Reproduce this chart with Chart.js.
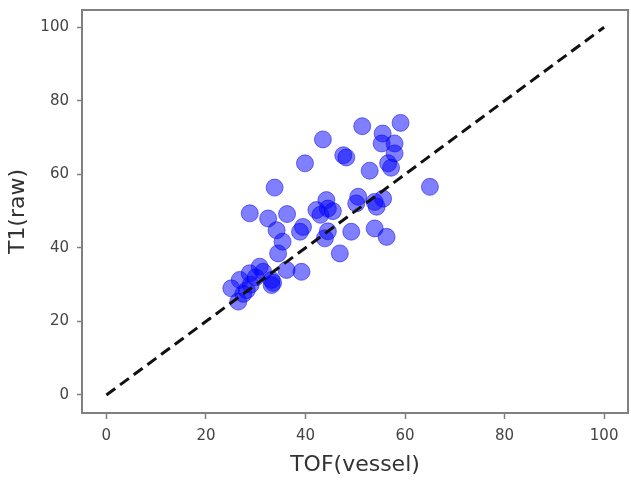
<!DOCTYPE html>
<html>
<head>
<meta charset="utf-8">
<script src="https://cdn.jsdelivr.net/npm/chart.js@4.4.1/dist/chart.umd.min.js"></script>
<style>
  html, body { margin: 0; padding: 0; background: #fff; overflow: hidden; }
  canvas { display: block; }
</style>
</head>
<body>
<canvas id="scatter" width="631" height="481"></canvas>
<script>
// values
var tofVessel = [51.4, 59.1, 43.5, 55.5, 55.3, 57.9, 47.6, 48.2, 39.9, 57.9,
                 56.6, 57.2, 52.9, 33.8, 65.0, 28.8, 36.3, 32.5, 34.2, 35.4,
                 34.5, 39.5, 38.9, 42.2, 43.0, 44.2, 44.5, 45.5, 43.9, 44.5,
                 46.9, 49.2, 50.6, 50.2, 53.9, 55.6, 54.3, 53.9, 56.3, 39.2,
                 36.2, 30.8, 31.5, 28.8, 26.8, 33.2, 33.2, 33.5, 25.1, 28.2,
                 29.0, 26.5, 27.5, 30.0];
var t1Raw     = [73.1, 74.0, 69.5, 71.1, 68.4, 68.4, 65.2, 64.6, 63.0, 65.7,
                 63.0, 61.8, 61.0, 56.4, 56.6, 49.4, 49.2, 48.0, 44.8, 41.7,
                 38.5, 45.7, 44.4, 50.3, 49.0, 53.0, 50.7, 50.0, 42.6, 44.5,
                 38.5, 44.4, 53.9, 52.1, 52.5, 53.4, 51.2, 45.3, 43.0, 33.5,
                 34.0, 34.9, 33.5, 33.1, 31.3, 31.3, 29.9, 30.5, 29.0, 28.5,
                 30.0, 25.4, 27.5, 32.0];
var xTicks = [0, 20, 40, 60, 80, 100];
var yTicks = [0, 20, 40, 60, 80, 100];
var identityLine = [0, 100];

var points = [];
for (var i = 0; i < tofVessel.length; i++) {
  points.push({x: tofVessel[i], y: t1Raw[i]});
}
var linePts = identityLine.map(function(v) { return {x: v, y: v}; });

// box around the plot area, like matplotlib
var frame = {
  id: 'frame',
  afterDatasetsDraw: function(chart) {
    var a = chart.chartArea, ctx = chart.ctx;
    ctx.save();
    ctx.strokeStyle = '#808080';
    ctx.lineWidth = 2;
    ctx.strokeRect(a.left, a.top, a.right - a.left, a.bottom - a.top);
    ctx.restore();
  }
};

// stop chart.js from reserving room for overhanging tick labels
function noPad(s) {
  s.paddingLeft = 0; s.paddingRight = 0; s.paddingTop = 0; s.paddingBottom = 0;
}

var tickFont = {family: 'DejaVu Sans', size: 15};
var titleFont = {family: 'DejaVu Sans', size: 22};

new Chart(document.getElementById('scatter'), {
  type: 'scatter',
  data: {
    datasets: [{
      type: 'line',
      data: linePts,
      borderColor: '#111',
      borderWidth: 3,
      borderDash: [11, 6],
      pointRadius: 0,
      fill: false,
      order: 0
    }, {
      data: points,
      backgroundColor: 'rgba(0,0,255,0.5)',
      borderColor: 'rgba(0,0,230,0.5)',
      borderWidth: 1,
      pointRadius: 8.5,
      order: 1
    }]
  },
  options: {
    responsive: false,
    devicePixelRatio: 1,
    animation: false,
    layout: {autoPadding: false, padding: {top: 10, right: 3, left: 0, bottom: 0}},
    plugins: {legend: {display: false}, tooltip: {enabled: false}},
    scales: {
      x: {
        type: 'linear',
        min: -4.9,
        max: 104.8,
        afterBuildTicks: function(s) { s.ticks = xTicks.map(function(v) { return {value: v}; }); },
        afterFit: function(s) { s.height = 68; noPad(s); },
        grid: {drawOnChartArea: false, tickLength: 6, tickColor: '#808080', tickWidth: 1.5},
        border: {display: false},
        ticks: {font: tickFont, color: '#444', padding: 8, maxRotation: 0},
        title: {display: true, text: 'TOF(vessel)', font: titleFont, color: '#333', padding: {top: 0, bottom: 3}}
      },
      y: {
        type: 'linear',
        min: -4.9,
        max: 104.7,
        afterBuildTicks: function(s) { s.ticks = yTicks.map(function(v) { return {value: v}; }); },
        afterFit: function(s) { s.width = 82; noPad(s); },
        grid: {drawOnChartArea: false, tickLength: 5, tickColor: '#808080', tickWidth: 1.5},
        border: {display: false},
        ticks: {font: tickFont, color: '#444', padding: 8},
        title: {display: true, text: 'T1(raw)', font: titleFont, color: '#333', padding: {top: 5, bottom: 0}}
      }
    }
  },
  plugins: [frame]
});
</script>
</body>
</html>
